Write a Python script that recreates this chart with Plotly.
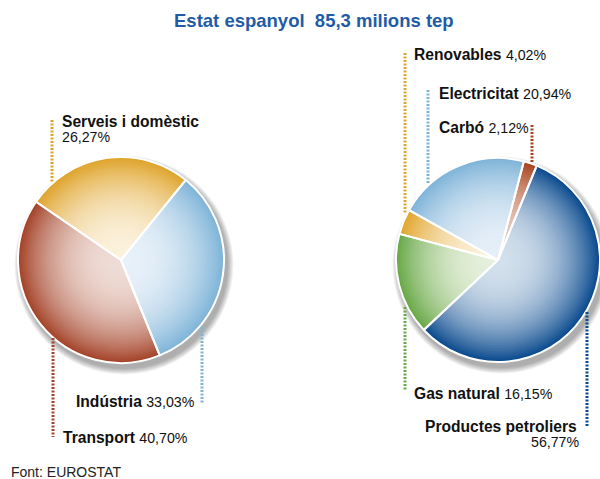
import numpy as np
import plotly.graph_objects as go

W, H = 600, 479

# ---------------- data ----------------
title_text = "Estat espanyol\u00a0 85,3 milions tep"
source_text = "Font: EUROSTAT"

left_labels = ["Indústria", "Transport", "Serveis i domèstic"]
left_values = [33.03, 40.70, 26.27]
left_edge = ["#7fb4d8", "#a5442a", "#dfa42c"]
left_center = ["#e8f1f9", "#efdcd6", "#fbf1dc"]

right_labels = ["Carbó", "Productes petroliers", "Gas natural", "Renovables", "Electricitat"]
right_values = [2.12, 56.77, 16.15, 4.02, 20.94]
right_edge = ["#a8441f", "#0a4a8e", "#69a948", "#e1a62e", "#7fb4d8"]
right_center = ["#eccfc4", "#d2dfec", "#e6f0dc", "#fbefd6", "#e6eff8"]

# ---------------- helpers ----------------
def px(x):
    return x / W

def py(y):
    return 1 - y / H

def hex2rgb(h):
    h = h.lstrip("#")
    return [int(h[i:i + 2], 16) for i in (0, 2, 4)]

def mix(c_edge, c_center, f, p=2.4):
    a = hex2rgb(c_edge)
    b = hex2rgb(c_center)
    w = f ** p  # weight of the edge colour
    r = [round(b[i] + (a[i] - b[i]) * w) for i in range(3)]
    return "rgb(%d,%d,%d)" % tuple(r)

def pct(v):
    return ("%.2f" % v).replace(".", ",") + "%"

fig = go.Figure()
shapes = []

def add_pie(labels, values, edge, center, cx, cy, r, rotation):
    # soft shadow to the lower right
    for k in range(7):
        rr = r + 1 + k * 0.9
        ox, oy = cx + 3, cy + 5
        shapes.append(dict(type="circle", xref="paper", yref="paper", layer="below",
                           x0=px(ox - rr), x1=px(ox + rr), y0=py(oy + rr), y1=py(oy - rr),
                           fillcolor="rgba(0,0,0,0.05)", line=dict(width=0)))
    fs = np.linspace(1.0, 0.04, 48)
    for f in fs:
        rf = r * f
        fig.add_trace(go.Pie(
            labels=labels, values=values, sort=False, direction="clockwise",
            rotation=rotation, textinfo="none", hoverinfo="skip", showlegend=False,
            marker=dict(colors=[mix(e, c, f) for e, c in zip(edge, center)],
                        line=dict(width=0)),
            domain=dict(x=[px(cx - rf), px(cx + rf)], y=[py(cy + rf), py(cy - rf)]),
        ))
    # white separators and rim
    fig.add_trace(go.Pie(
        labels=labels, values=values, sort=False, direction="clockwise",
        rotation=rotation, textinfo="none", hoverinfo="label+percent", showlegend=False,
        marker=dict(colors=["rgba(0,0,0,0)"] * len(values),
                    line=dict(width=2, color="white")),
        domain=dict(x=[px(cx - r), px(cx + r)], y=[py(cy + r), py(cy - r)]),
    ))

add_pie(left_labels, left_values, left_edge, left_center, 121, 260, 103, 39)
add_pie(right_labels, right_values, right_edge, right_center, 498, 260, 102, 14.7)

# ---------------- leader lines ----------------
def leader(x, y0, y1, color):
    shapes.append(dict(type="line", xref="paper", yref="paper", layer="above",
                       x0=px(x), x1=px(x), y0=py(y0), y1=py(y1),
                       line=dict(color=color, width=3, dash="2px,1.5px")))

leader(52, 120, 183, left_edge[2])
leader(202, 327, 404, left_edge[0])
leader(53, 338, 437, left_edge[1])
leader(405, 53, 213, right_edge[3])
leader(428, 90, 183, right_edge[4])
leader(532, 125, 163, right_edge[0])
leader(405, 307, 390, right_edge[2])
leader(587, 312, 427, right_edge[1])

# ---------------- text ----------------
FONT = "Liberation Sans, Arial, Helvetica, sans-serif"
anns = []

def label(x, y, text, anchor="left", size=15.6):
    anns.append(dict(xref="paper", yref="paper", x=px(x), y=py(y), text=text,
                     xanchor=anchor, yanchor="middle", showarrow=False, borderpad=0,
                     font=dict(family=FONT, size=size, color="#111111")))

def lab(name, val):
    return "<b>%s</b> <span style='font-size:14.2px'>%s</span>" % (name, pct(val))

label(61, 122, "<b>%s</b>" % left_labels[2])
label(61, 137, pct(left_values[2]), size=14.2)
label(75, 401, lab(left_labels[0], left_values[0]))
label(62, 437, lab(left_labels[1], left_values[1]))

label(413, 55, lab(right_labels[3], right_values[3]))
label(438, 93, lab(right_labels[4], right_values[4]))
label(438, 127, lab(right_labels[0], right_values[0]))
label(413, 393, lab(right_labels[2], right_values[2]))
label(578, 426, "<b>%s</b>" % right_labels[1], anchor="right")
label(581, 442, pct(right_values[1]), anchor="right", size=14.2)

anns.append(dict(xref="paper", yref="paper", x=px(314), y=py(20), text="<b>%s</b>" % title_text,
                 xanchor="center", yanchor="middle", showarrow=False, borderpad=0,
                 font=dict(family=FONT, size=18.5, color="#1f5ca6")))
anns.append(dict(xref="paper", yref="paper", x=px(10), y=py(472), text=source_text,
                 xanchor="left", yanchor="middle", showarrow=False, borderpad=0,
                 font=dict(family=FONT, size=14, color="#222222")))

fig.update_layout(
    width=W, height=H,
    margin=dict(l=0, r=0, t=0, b=0),
    paper_bgcolor="white", plot_bgcolor="white",
    shapes=shapes, annotations=anns,
    showlegend=False,
)

fig.write_html("out.html",
               config={"displayModeBar": False},
               post_script="document.body.style.margin='0';document.body.style.overflow='hidden';")
